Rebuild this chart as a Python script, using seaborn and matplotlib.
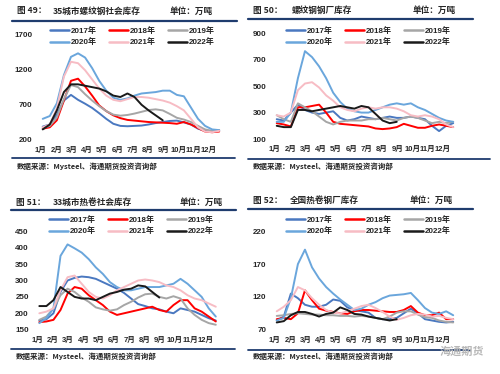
import matplotlib.pyplot as plt
import numpy as np
import pandas as pd
import seaborn as sns
from matplotlib.lines import Line2D

years = ["2017年", "2018年", "2019年", "2020年", "2021年", "2022年"]
colors = ["#4a78c0", "#ff0000", "#a6a6a6", "#6aa6dc", "#f7bcc4", "#1a1a1a"]
months = ["1月", "2月", "3月", "4月", "5月", "6月", "7月", "8月", "9月", "10月", "11月", "12月"]
weeks = list(range(0, 52, 2))

# 图49 35城市螺纹钢社会库存
p49_2017 = [390, 420, 560, 760, 840, 770, 715, 655, 580, 500, 430, 400, 395, 400, 405, 420, 440, 455, 470, 475, 450, 420, 360, 330, 320, 330]
p49_2018 = [360, 380, 480, 760, 1040, 1070, 960, 830, 690, 610, 550, 510, 485, 475, 465, 455, 450, 445, 440, 430, 455, 420, 370, 320, 310, 320]
p49_2019 = [370, 400, 520, 780, 980, 950, 850, 760, 680, 610, 560, 545, 555, 575, 600, 625, 635, 620, 570, 515, 490, 455, 400, 350, 330, 340]
p49_2020 = [500, 540, 720, 1120, 1380, 1430, 1370, 1220, 1040, 900, 800, 770, 790, 830, 860, 870, 880, 900, 900, 840, 820, 660, 500, 400, 350, 340]
p49_2021 = [380, 420, 650, 1100, 1310, 1290, 1190, 1060, 930, 830, 770, 750, 780, 810, 810, 800, 780, 760, 730, 680, 620, 500, 380, 320, 310, 330]
p49_2022 = [350, 420, 620, 880, 990, 990, 970, 950, 930, 890, 830, 810, 860, 810, 700, 620, 550, 480]

# 图50 螺纹钢钢厂库存
p50_2017 = [250, 240, 300, 360, 320, 300, 290, 300, 310, 260, 240, 250, 270, 260, 250, 260, 270, 260, 260, 270, 260, 250, 200, 160, 200, 220]
p50_2018 = [220, 210, 195, 340, 340, 350, 360, 300, 230, 215, 210, 205, 200, 195, 180, 175, 180, 190, 215, 200, 185, 185, 200, 210, 200, 190]
p50_2019 = [280, 250, 230, 370, 340, 310, 270, 230, 210, 230, 240, 240, 240, 250, 250, 260, 250, 240, 260, 270, 260, 240, 220, 230, 220, 230]
p50_2020 = [230, 230, 300, 560, 765, 720, 650, 560, 450, 380, 330, 310, 300, 300, 320, 340, 360, 370, 360, 370, 340, 320, 290, 260, 240, 230]
p50_2021 = [280, 270, 300, 470, 520, 530, 490, 430, 390, 340, 320, 310, 330, 340, 330, 340, 340, 330, 310, 280, 270, 280, 270, 250, 210, 190]
p50_2022 = [200, 190, 190, 320, 320, 310, 320, 330, 340, 350, 340, 330, 350, 340, 290, 240, 220, 230]

# 图51 33城市热卷社会库存
p51_2017 = [178, 182, 200, 265, 300, 308, 312, 310, 305, 295, 285, 275, 262, 245, 228, 222, 215, 212, 205, 200, 215, 210, 205, 195, 185, 178]
p51_2018 = [173, 175, 180, 210, 260, 280, 275, 255, 240, 225, 205, 195, 200, 205, 210, 215, 220, 210, 205, 225, 240, 240, 215, 205, 190, 175]
p51_2019 = [180, 190, 215, 255, 275, 265, 248, 235, 218, 212, 208, 212, 225, 235, 248, 258, 260, 250, 245, 252, 245, 215, 195, 180, 170, 165]
p51_2020 = [170, 185, 215, 375, 410, 398, 385, 365, 340, 320, 295, 280, 270, 270, 275, 280, 280, 280, 285, 290, 305, 290, 270, 250, 215, 190]
p51_2021 = [200, 205, 215, 270, 310, 315, 290, 265, 250, 245, 255, 270, 280, 290, 300, 303, 300, 295, 285, 280, 270, 255, 245, 240, 230, 220]
p51_2022 = [222, 222, 240, 280, 265, 250, 245, 245, 240, 250, 260, 265, 272, 275, 285, 282, 265, 248]

# 图52 全国热卷钢厂库存
p52_2017 = [84, 90, 125, 118, 108, 105, 105, 108, 116, 114, 104, 100, 98, 96, 88, 86, 86, 88, 95, 102, 95, 86, 84, 82, 81, 82]
p52_2018 = [86, 88, 86, 95, 130, 115, 102, 99, 97, 95, 94, 98, 100, 100, 99, 98, 97, 97, 100, 106, 96, 92, 92, 96, 86, 86]
p52_2019 = [91, 92, 94, 95, 94, 93, 93, 92, 92, 91, 91, 90, 91, 90, 88, 86, 90, 96, 98, 98, 93, 89, 88, 84, 82, 81]
p52_2020 = [84, 88, 118, 170, 192, 165, 148, 135, 125, 116, 108, 100, 102, 108, 112, 118, 122, 123, 124, 126, 115, 103, 96, 94, 98, 92]
p52_2021 = [98, 105, 115, 135, 130, 118, 108, 100, 96, 95, 98, 102, 106, 108, 103, 97, 90, 85, 88, 92, 94, 93, 90, 91, 88, 86]
p52_2022 = [81, 83, 92, 97, 97, 94, 90, 94, 96, 104, 100, 94, 93, 90, 88, 86, 84, 86]

sns.set_style("white")
plt.rcParams["font.family"] = ["Liberation Sans", "Noto Sans CJK SC"]
plt.rcParams["font.weight"] = "bold"

W, H = 500, 374
fig = plt.figure(figsize=(5, 3.74), dpi=100)


def px(x, y):
    return x / W, 1 - y / H


def hline(x0, x1, y, lw, color="#1f3c6e"):
    fig.add_artist(Line2D([x0 / W, x1 / W], [1 - y / H, 1 - y / H], lw=lw, color=color))


def panel(rect, series, ylim, yticks, title_y, num, name, name_x, unit_x, line_y, bot_y, src_y, x_off, leg_y, bot_x1):
    ax = fig.add_axes(rect)
    rows = []
    for year, vals in zip(years, series):
        for w, v in zip(weeks, vals):
            rows.append((w, v, year))
    df = pd.DataFrame(rows, columns=["week", "value", "year"])
    sns.lineplot(data=df, x="week", y="value", hue="year", hue_order=years,
                 palette=colors, linewidth=1.4, ax=ax, legend=False)
    ax.set_xlim(-1, 50)
    ax.set_ylim(*ylim)
    ax.set_yticks(yticks)
    ax.set_yticklabels([str(t) for t in yticks], fontsize=5.8, fontweight="bold")
    ax.set_xticks(np.arange(12) * 4.33 - 0.5)
    ax.set_xticklabels(months, fontsize=5.5, fontweight="bold")
    ax.tick_params(length=0, pad=5)
    ax.set_xlabel("")
    ax.set_ylabel("")
    sns.despine(ax=ax, left=True, bottom=True)
    for line in ax.lines:
        line.set_clip_on(False)

    # legend filled row by row, like the original
    order = [0, 3, 1, 4, 2, 5]
    handles = [Line2D([], [], color=colors[i], lw=1.8) for i in order]
    labels = [years[i] for i in order]
    ax.legend(handles, labels, ncol=3, loc="upper left", frameon=False,
              bbox_to_anchor=px(x_off + 8, leg_y), bbox_transform=fig.transFigure,
              fontsize=5.8, handlelength=2.4, handletextpad=0.2,
              columnspacing=1.5, labelspacing=0.45, borderpad=0, borderaxespad=0)

    fig.text(*px(x_off - 25, title_y), "图 " + num + "：", fontsize=6.2,
             fontweight="bold", va="center", family=["Noto Sans CJK SC"])
    fig.text(*px(name_x, title_y), name, fontsize=6.2, fontweight="bold",
             va="center", family=["Noto Sans CJK SC"])
    fig.text(*px(unit_x, title_y), "单位：万吨", fontsize=6.2, fontweight="bold",
             va="center", family=["Noto Sans CJK SC"])
    hline(x_off - 30, x_off + 195, line_y, 1.6)
    hline(x_off - 30, bot_x1, bot_y, 1.3)
    fig.text(*px(x_off - 25, src_y), "数据来源：Mysteel、海通期货投资咨询部",
             fontsize=5.4, fontweight="bold", va="center",
             family=["Noto Sans CJK SC"])
    return ax


panel([39.2 / W, 0.6257, 180 / W, 0.2826],
      [p49_2017, p49_2018, p49_2019, p49_2020, p49_2021, p49_2022],
      (200, 1700), [200, 700, 1200, 1700], 11, "49", "35城市螺纹钢社会库存", 53, 170,
      20.5, 158.3, 166.5, 42, 27, 235)

panel([273.2 / W, 0.6283, 180 / W, 0.2826],
      [p50_2017, p50_2018, p50_2019, p50_2020, p50_2021, p50_2022],
      (100, 900), [100, 300, 500, 700, 900], 10.5, "50", "螺纹钢钢厂库存", 292, 413,
      18.5, 159, 166.5, 278, 27, 490)

panel([35.8 / W, 0.1185, 180 / W, 0.2631],
      [p51_2017, p51_2018, p51_2019, p51_2020, p51_2021, p51_2022],
      (150, 450), [150, 200, 250, 300, 350, 400, 450], 202, "51", "33城市热卷社会库存", 53, 180,
      209.7, 349.3, 356, 41, 216, 235)

panel([273.2 / W, 0.1185, 180 / W, 0.2631],
      [p52_2017, p52_2018, p52_2019, p52_2020, p52_2021, p52_2022],
      (70, 220), [70, 120, 170, 220], 200, "52", "全国热卷钢厂库存", 290, 410,
      208.7, 350.3, 356, 278, 216, 470)

fig.text(*px(440, 351), "海通期货", fontsize=8, color="#b8b8b8",
         va="center", family=["Noto Sans CJK SC"])

fig.savefig("out.png", dpi=100)
